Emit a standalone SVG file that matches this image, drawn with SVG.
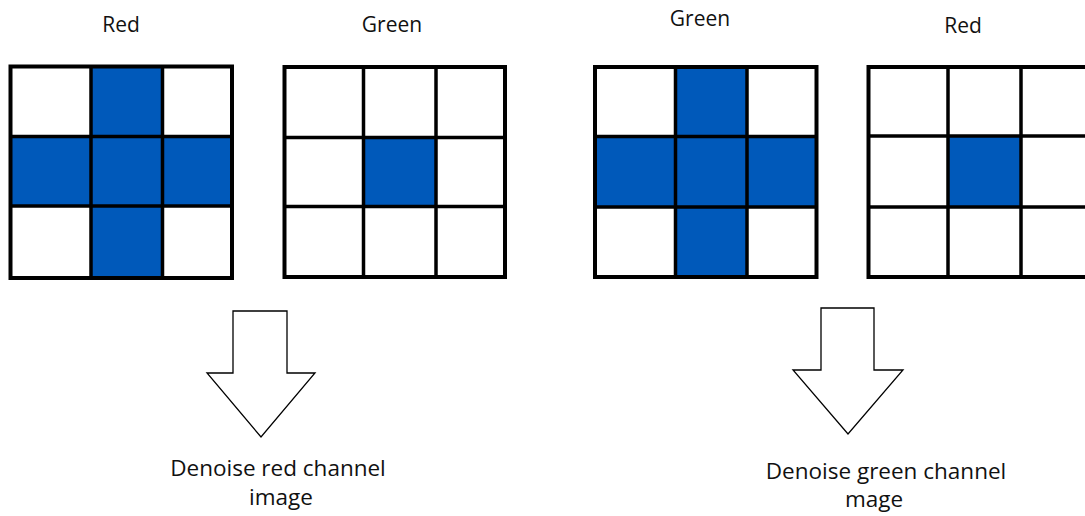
<svg xmlns="http://www.w3.org/2000/svg" width="1085" height="516" viewBox="0 0 1085 516">
  <style>
    .bg { fill: #ffffff; }
    .cell { fill: #0059BA; }
    .frame { fill: none; stroke: #000000; stroke-width: 4; }
    .grid { stroke: #000000; stroke-width: 3.5; }
    .arrow { fill: #ffffff; stroke: #000000; stroke-width: 1.3; stroke-linejoin: miter; }
    .label { font-family: "Open Sans", "Noto Sans", "DejaVu Sans", sans-serif; font-size: 21px; fill: #111111; text-anchor: middle; }
    .caption { font-size: 22.5px; }
  </style>
  <rect class="bg" x="0" y="0" width="1085" height="516"/>

  <!-- Red mask: plus-shaped pattern -->
  <g id="red-mask-left">
    <text class="label" x="121" y="32">Red</text>
    <rect class="cell" x="91" y="66.5" width="71.5" height="211.5"/>
    <rect class="cell" x="10.5" y="136.5" width="221.5" height="69.5"/>
    <rect class="frame" x="10.5" y="66.5" width="221.5" height="211.5"/>
    <line class="grid" x1="91" y1="66.5" x2="91" y2="278"/>
    <line class="grid" x1="162.5" y1="66.5" x2="162.5" y2="278"/>
    <line class="grid" x1="10.5" y1="136.5" x2="232" y2="136.5"/>
    <line class="grid" x1="10.5" y1="206" x2="232" y2="206"/>
  </g>

  <!-- Green mask: centre pixel only -->
  <g id="green-mask-left">
    <text class="label" x="392" y="32">Green</text>
    <rect class="cell" x="363.5" y="137.5" width="72.5" height="69"/>
    <rect class="frame" x="284.5" y="67" width="220.5" height="210"/>
    <line class="grid" x1="363.5" y1="67" x2="363.5" y2="277"/>
    <line class="grid" x1="436" y1="67" x2="436" y2="277"/>
    <line class="grid" x1="284.5" y1="137.5" x2="505" y2="137.5"/>
    <line class="grid" x1="284.5" y1="206.5" x2="505" y2="206.5"/>
  </g>

  <!-- Green mask: plus-shaped pattern -->
  <g id="green-mask-right">
    <text class="label" x="700" y="26">Green</text>
    <rect class="cell" x="675.5" y="67" width="71.5" height="210"/>
    <rect class="cell" x="595" y="136.5" width="221.5" height="70.5"/>
    <rect class="frame" x="595" y="67" width="221.5" height="210"/>
    <line class="grid" x1="675.5" y1="67" x2="675.5" y2="277"/>
    <line class="grid" x1="747" y1="67" x2="747" y2="277"/>
    <line class="grid" x1="595" y1="136.5" x2="816.5" y2="136.5"/>
    <line class="grid" x1="595" y1="207" x2="816.5" y2="207"/>
  </g>

  <!-- Red mask: centre pixel only (runs off the right edge) -->
  <g id="red-mask-right">
    <text class="label" x="963" y="33">Red</text>
    <rect class="cell" x="948" y="136" width="73" height="71"/>
    <rect class="frame" x="868.5" y="67" width="230" height="210"/>
    <line class="grid" x1="948" y1="67" x2="948" y2="277"/>
    <line class="grid" x1="1021" y1="67" x2="1021" y2="277"/>
    <line class="grid" x1="868.5" y1="136" x2="1095" y2="136"/>
    <line class="grid" x1="868.5" y1="207" x2="1095" y2="207"/>
  </g>

  <!-- Block arrows pointing down to the results -->
  <g id="connectors">
    <polygon class="arrow" points="233,311 287,311 287,373 315,373 261,437 207,373 233,373"/>
    <polygon class="arrow" points="821,308 874,308 874,370 903,370 848,434 793,370 821,370"/>
  </g>

  <g id="result-red">
    <text class="label caption" x="278" y="476">Denoise red channel</text>
    <text class="label caption" x="281" y="505">image</text>
  </g>

  <g id="result-green">
    <text class="label caption" x="886" y="479">Denoise green channel</text>
    <text class="label caption" x="874" y="507">mage</text>
  </g>
</svg>
